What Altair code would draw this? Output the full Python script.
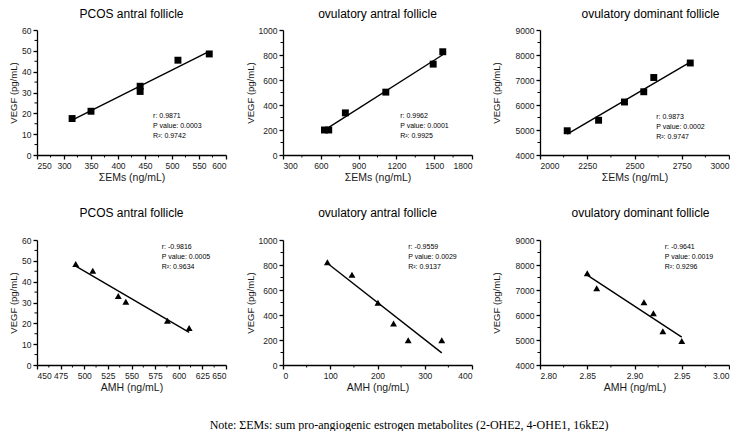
import altair as alt
import pandas as pd

# ---------------- data ----------------
# Top row: VEGF vs sum of pro-angiogenic estrogen metabolites (squares)
ems_pcos = [315, 350, 441, 441, 511, 569]
vegf_pcos_ems = [17.5, 21, 30.5, 33, 45.5, 48.5]

ems_ovu_antral = [629, 663, 795, 1116, 1492, 1568]
vegf_ovu_antral_ems = [200, 200, 337, 503, 727, 826]

ems_ovu_dom = [2144, 2310, 2447, 2549, 2602, 2795]
vegf_ovu_dom_ems = [4970, 5390, 6120, 6530, 7100, 7680]

# Bottom row: VEGF vs AMH (triangles)
amh_pcos = [491, 509, 536, 544, 588, 611]
vegf_pcos_amh = [48.5, 45.3, 33.1, 30.4, 21.3, 17.8]

amh_ovu_antral = [94, 146, 201, 234, 265, 336]
vegf_ovu_antral_amh = [823, 723, 499, 332, 198, 198]

amh_ovu_dom = [2.850, 2.860, 2.910, 2.920, 2.930, 2.950]
vegf_ovu_dom_amh = [7670, 7066, 6513, 6066, 5355, 4960]

titles = ["PCOS antral follicle", "ovulatory antral follicle", "ovulatory dominant follicle"]
stats_top = [["r: 0.9871", "P value: 0.0003", "R\u00b2: 0.9742"],
             ["r: 0.9962", "P value: 0.0001", "R\u00b2: 0.9925"],
             ["r: 0.9873", "P value: 0.0002", "R\u00b2: 0.9747"]]
stats_bot = [["r: -0.9816", "P value: 0.0005", "R\u00b2: 0.9634"],
             ["r: -0.9559", "P value: 0.0029", "R\u00b2: 0.9137"],
             ["r: -0.9641", "P value: 0.0019", "R\u00b2: 0.9296"]]
note = "Note: \u03a3EMs: sum pro-angiogenic estrogen metabolites (2-OHE2, 4-OHE1, 16kE2)"

W, H = 189, 125
SANS = "Liberation Sans"
INK = "#1a1a1a"


def ticks(lo, hi, step):
    n = int(round((hi - lo) / step))
    return [round(lo + i * step, 6) for i in range(n + 1)]


def minors(lo, hi, step):
    n = int(round((hi - lo) / step))
    return [round(lo + (i + 0.5) * step, 6) for i in range(n)]


def panel(xs, ys, xdom, xstep, ydom, ystep, shape, title, xtitle, stats,
          ann_x, ann_y, title_offset, title_dx=0, xfmt="d", y_extent=0):
    df = pd.DataFrame({"x": xs, "y": ys})
    sx = alt.Scale(domain=xdom, nice=False, zero=False)
    sy = alt.Scale(domain=ydom, nice=False, zero=False)
    common = dict(domainColor="black", domainWidth=1.3, tickColor="black",
                  tickWidth=1.3, tickSize=4, labelFont=SANS, labelFontSize=8.5,
                  labelColor=INK, titleFont=SANS, titleFontWeight="normal",
                  titleColor=INK, grid=False, labelPadding=2)
    ax_x = alt.Axis(values=ticks(xdom[0], xdom[1], xstep), title=xtitle,
                    titleFontSize=10.5, titlePadding=3, format=xfmt, **common)
    ax_y = alt.Axis(values=ticks(ydom[0], ydom[1], ystep), title="VEGF (pg/mL)",
                    titleFontSize=9.5, titlePadding=3, format="d",
                    minExtent=y_extent, **common)
    X = lambda: alt.X("x:Q", scale=sx, axis=ax_x)
    Y = lambda: alt.Y("y:Q", scale=sy, axis=ax_y)

    line = alt.Chart(df).transform_regression("x", "y").mark_line(
        color="black", strokeWidth=1.4).encode(x=X(), y=Y())
    pts = alt.Chart(df).mark_point(shape=shape, filled=True, color="black",
                                   opacity=1, size=48).encode(x=X(), y=Y())
    xm = alt.Chart(pd.DataFrame({"x": minors(xdom[0], xdom[1], xstep)})).mark_rule(
        color="black", strokeWidth=1).encode(
        x=X(), y=alt.value(H), y2=alt.value(H + 2.5))
    ym = alt.Chart(pd.DataFrame({"y": minors(ydom[0], ydom[1], ystep)})).mark_rule(
        color="black", strokeWidth=1).encode(
        y=Y(), x=alt.value(0), x2=alt.value(-2.5))
    ann = alt.Chart(pd.DataFrame({"x": [ann_x], "y": [ann_y]})).mark_text(
        align="left", baseline="top", font=SANS, fontSize=7, lineHeight=10,
        color="black").encode(x=X(), y=Y(), text=alt.value(stats))
    return alt.layer(line, pts, xm, ym, ann).properties(
        width=W, height=H,
        title=alt.TitleParams(title, font=SANS, fontSize=12, fontWeight="normal",
                              color="black", offset=title_offset, frame="group",
                              dx=title_dx))


top = alt.hconcat(
    panel(ems_pcos, vegf_pcos_ems, [250, 600], 50, [0, 60], 10, "square",
          titles[0], "\u03a3EMs (ng/mL)", stats_top[0], 465, 20.5, 5),
    panel(ems_ovu_antral, vegf_ovu_antral_ems, [300, 1800], 300, [0, 1000], 200, "square",
          titles[1], "\u03a3EMs (ng/mL)", stats_top[1], 1230, 345, 5),
    panel(ems_ovu_dom, vegf_ovu_dom_ems, [2000, 3000], 250, [4000, 9000], 1000, "square",
          titles[2], "\u03a3EMs (ng/mL)", stats_top[2], 2615, 5700, 5, 16, y_extent=36),
    spacing=18,
)
bottom = alt.hconcat(
    panel(amh_pcos, vegf_pcos_amh, [450, 650], 25, [0, 60], 10, "triangle-up",
          titles[0], "AMH (ng/mL)", stats_bot[0], 582, 58.5, 16),
    panel(amh_ovu_antral, vegf_ovu_antral_amh, [0, 400], 100, [0, 1000], 200, "triangle-up",
          titles[1], "AMH (ng/mL)", stats_bot[1], 265, 975, 16),
    panel(amh_ovu_dom, vegf_ovu_dom_amh, [2.80, 3.00], 0.05, [4000, 9000], 1000, "triangle-up",
          titles[2], "AMH (ng/mL)", stats_bot[2], 2.932, 8870, 16, 6, xfmt=".2f", y_extent=36),
    spacing=18,
)

chart = alt.vconcat(top, bottom, spacing=24).properties(
    padding=0,
    title=alt.TitleParams(note, orient="bottom", anchor="middle", font="Liberation Serif",
                          fontSize=12, fontWeight="normal", color="black", offset=27, dx=40),
).configure_view(stroke=None)

chart.save("out.html", embed_options={"renderer": "svg", "actions": False})
